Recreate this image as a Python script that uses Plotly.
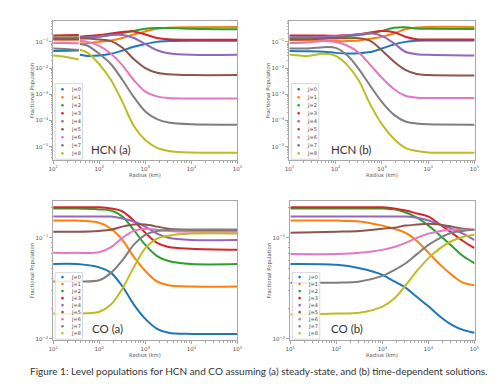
import plotly.graph_objects as go

# ---------------- data ----------------
LEVELS = ["J=0", "J=1", "J=2", "J=3", "J=4", "J=5", "J=6", "J=7", "J=8"]
COLORS = ["#1f77b4", "#ff7f0e", "#2ca02c", "#d62728", "#9467bd",
          "#8c564b", "#e377c2", "#7f7f7f", "#bcbd22"]

X_TICKS = [10, 100, 1000, 10000, 100000]
X_TICK_TEXT = ["10<sup>1</sup>", "10<sup>2</sup>", "10<sup>3</sup>", "10<sup>4</sup>", "10<sup>5</sup>"]
HCN_Y_TICKS = [1e-5, 1e-4, 1e-3, 1e-2, 1e-1]
HCN_Y_TICK_TEXT = ["10<sup>\u22125</sup>", "10<sup>\u22124</sup>", "10<sup>\u22123</sup>",
                   "10<sup>\u22122</sup>", "10<sup>\u22121</sup>"]
CO_Y_TICKS = [1e-2, 1e-1]
CO_Y_TICK_TEXT = ["10<sup>\u22122</sup>", "10<sup>\u22121</sup>"]

PANEL_LABELS = ["HCN (a)", "HCN (b)", "CO (a)", "CO (b)"]
X_TITLE = "Radius (km)"
Y_TITLE = "Fractional Population"
CAPTION = ("Figure 1: Level populations for HCN and CO assuming (a) steady-state, "
           "and (b) time-dependent solutions.")

# HCN (a): steady state, two pieces separated by a jump near 37 km
HCN_A_X_INNER = [10, 18, 36]
HCN_A_X_OUTER = [38, 56, 100, 180, 320, 560, 1000, 1800, 3200, 10000, 100000]
HCN_A_INNER = [
    [0.045, 0.046, 0.047],
    [0.120, 0.120, 0.120],
    [0.148, 0.148, 0.150],
    [0.175, 0.180, 0.185],
    [0.140, 0.140, 0.142],
    [0.126, 0.126, 0.127],
    [0.091, 0.090, 0.088],
    [0.056, 0.053, 0.049],
    [0.030, 0.027, 0.021],
]
HCN_A_OUTER = [
    [0.032, 0.029, 0.030, 0.035, 0.047, 0.065, 0.083, 0.100, 0.107, 0.110, 0.110],
    [0.087, 0.089, 0.100, 0.112, 0.141, 0.191, 0.251, 0.316, 0.347, 0.363, 0.372],
    [0.141, 0.145, 0.158, 0.182, 0.219, 0.263, 0.316, 0.339, 0.339, 0.316, 0.302],
    [0.158, 0.166, 0.182, 0.209, 0.240, 0.251, 0.191, 0.141, 0.126, 0.120, 0.120],
    [0.148, 0.151, 0.162, 0.182, 0.182, 0.141, 0.083, 0.048, 0.037, 0.032, 0.032],
    [0.135, 0.135, 0.123, 0.107, 0.060, 0.022, 0.010, 0.0066, 0.0058, 0.0054, 0.0054],
    [0.107, 0.100, 0.071, 0.035, 0.0126, 0.0035, 0.00126, 0.00083, 0.00072, 0.00069, 0.00069],
    [0.083, 0.071, 0.035, 0.014, 0.0035, 0.00079, 0.00022, 0.000112, 0.000083, 0.000071, 0.000069],
    [0.050, 0.038, 0.014, 0.0035, 0.0005, 0.000063, 0.0000178, 0.0000089, 0.0000068, 0.0000059, 0.0000058],
]

# HCN (b): time dependent
HCN_B_X = [10, 25, 56, 100, 180, 320, 560, 1000, 1800, 3200, 5600, 10000, 100000]
HCN_B = [
    [0.045, 0.044, 0.042, 0.038, 0.036, 0.037, 0.041, 0.056, 0.079, 0.100, 0.110, 0.112, 0.112],
    [0.115, 0.112, 0.110, 0.107, 0.107, 0.112, 0.132, 0.158, 0.209, 0.302, 0.355, 0.372, 0.372],
    [0.141, 0.145, 0.148, 0.151, 0.162, 0.182, 0.209, 0.263, 0.347, 0.363, 0.324, 0.316, 0.309],
    [0.174, 0.174, 0.174, 0.170, 0.178, 0.195, 0.229, 0.263, 0.234, 0.158, 0.126, 0.123, 0.123],
    [0.151, 0.155, 0.158, 0.166, 0.178, 0.195, 0.214, 0.170, 0.089, 0.042, 0.034, 0.032, 0.030],
    [0.123, 0.126, 0.132, 0.135, 0.138, 0.138, 0.110, 0.047, 0.0178, 0.0085, 0.0059, 0.0054, 0.0052],
    [0.091, 0.095, 0.107, 0.098, 0.071, 0.038, 0.0132, 0.0042, 0.00158, 0.00087, 0.00074, 0.00072, 0.00071],
    [0.056, 0.056, 0.063, 0.059, 0.030, 0.0089, 0.0021, 0.0005, 0.000166, 0.000091, 0.000076, 0.000071, 0.000069],
    [0.033, 0.029, 0.035, 0.029, 0.0126, 0.0032, 0.0004, 0.000071, 0.00002, 0.0000089, 0.0000068, 0.000006, 0.0000058],
]

# CO (a): steady state
CO_A_X = [10, 32, 100, 180, 320, 560, 1000, 1800, 3200, 10000, 100000]
CO_A = [
    [0.055, 0.055, 0.051, 0.045, 0.033, 0.022, 0.0158, 0.0126, 0.0115, 0.0112, 0.0112],
    [0.148, 0.148, 0.141, 0.123, 0.095, 0.065, 0.047, 0.037, 0.034, 0.033, 0.033],
    [0.195, 0.195, 0.191, 0.186, 0.162, 0.120, 0.085, 0.066, 0.059, 0.055, 0.055],
    [0.200, 0.200, 0.200, 0.195, 0.182, 0.148, 0.112, 0.089, 0.081, 0.078, 0.076],
    [0.162, 0.162, 0.162, 0.162, 0.155, 0.145, 0.129, 0.110, 0.100, 0.095, 0.095],
    [0.115, 0.115, 0.117, 0.120, 0.129, 0.135, 0.135, 0.129, 0.123, 0.119, 0.117],
    [0.071, 0.071, 0.072, 0.081, 0.100, 0.117, 0.123, 0.120, 0.117, 0.115, 0.115],
    [0.037, 0.037, 0.038, 0.045, 0.060, 0.085, 0.107, 0.117, 0.120, 0.121, 0.121],
    [0.0178, 0.0178, 0.0186, 0.0219, 0.0316, 0.051, 0.079, 0.098, 0.105, 0.110, 0.110],
]

# CO (b): time dependent
CO_B_X = [10, 100, 320, 1000, 1800, 3200, 5600, 10000, 18000, 32000, 56000, 100000]
CO_B = [
    [0.055, 0.054, 0.050, 0.043, 0.037, 0.032, 0.026, 0.021, 0.0166, 0.0138, 0.0123, 0.0115],
    [0.148, 0.148, 0.145, 0.132, 0.123, 0.112, 0.093, 0.071, 0.054, 0.043, 0.036, 0.034],
    [0.195, 0.195, 0.195, 0.195, 0.191, 0.178, 0.158, 0.132, 0.105, 0.083, 0.066, 0.056],
    [0.200, 0.200, 0.200, 0.200, 0.195, 0.186, 0.174, 0.162, 0.135, 0.112, 0.093, 0.079],
    [0.162, 0.162, 0.162, 0.162, 0.162, 0.162, 0.158, 0.148, 0.135, 0.123, 0.110, 0.095],
    [0.112, 0.115, 0.117, 0.123, 0.126, 0.132, 0.135, 0.138, 0.135, 0.129, 0.123, 0.120],
    [0.069, 0.069, 0.071, 0.076, 0.081, 0.089, 0.100, 0.110, 0.117, 0.120, 0.120, 0.120],
    [0.036, 0.036, 0.037, 0.042, 0.048, 0.056, 0.069, 0.085, 0.100, 0.112, 0.117, 0.120],
    [0.0174, 0.0178, 0.0182, 0.0209, 0.0251, 0.034, 0.047, 0.063, 0.079, 0.093, 0.102, 0.107],
]

# ---------------- layout helpers ----------------
W, H = 500, 384


def fx(px):
    return px / W


def fy(py):
    return 1 - py / H


# pixel boxes of the four plot areas: (left, right, top, bottom)
BOXES = [(41, 229, 13, 153), (282, 471, 13, 153), (41, 229, 194, 334), (283, 471, 194, 334)]
HCN_RANGE = [-5.52, -0.20]
CO_RANGE = [-2.013, -0.636]

fig = go.Figure()

LINE_W = 2.0


def add_curve(x, y, color, xa, ya):
    fig.add_trace(go.Scatter(
        x=x, y=y, mode="lines", line=dict(color=color, width=LINE_W, shape="spline", smoothing=0.9),
        xaxis=xa, yaxis=ya, showlegend=False, hoverinfo="skip"))


for j in range(9):
    add_curve(HCN_A_X_INNER, HCN_A_INNER[j], COLORS[j], "x", "y")
    add_curve(HCN_A_X_OUTER, HCN_A_OUTER[j], COLORS[j], "x", "y")
    add_curve(HCN_B_X, HCN_B[j], COLORS[j], "x2", "y2")
    add_curve(CO_A_X, CO_A[j], COLORS[j], "x3", "y3")
    add_curve(CO_B_X, CO_B[j], COLORS[j], "x4", "y4")

AX_COLOR = "#a8a8a8"
TICK_FONT = dict(family="DejaVu Sans", size=5.5, color="#555")

minor_vals = [m * 10 ** k for k in range(-6, 6) for m in range(2, 10)]

layout = dict(width=W, height=H, margin=dict(l=0, r=0, t=0, b=0),
              paper_bgcolor="white", plot_bgcolor="white", showlegend=False)

for i, (l, r, t, b) in enumerate(BOXES):
    sfx = "" if i == 0 else str(i + 1)
    is_hcn = i < 2
    layout["xaxis" + sfx] = dict(
        type="log", range=[1, 5], domain=[fx(l), fx(r)], anchor="y" + sfx,
        showline=True, mirror=True, linecolor=AX_COLOR, linewidth=1,
        ticks="outside", ticklen=3, tickcolor=AX_COLOR, tickwidth=1,
        tickmode="array", tickvals=X_TICKS, ticktext=X_TICK_TEXT, tickfont=TICK_FONT,
        showgrid=False, zeroline=False,
        minor=dict(ticks="outside", ticklen=1.5, tickcolor=AX_COLOR, tickmode="array",
                   tickvals=minor_vals, showgrid=False))
    layout["yaxis" + sfx] = dict(
        type="log", range=HCN_RANGE if is_hcn else CO_RANGE,
        domain=[fy(b), fy(t)], anchor="x" + sfx,
        showline=True, mirror=True, linecolor=AX_COLOR, linewidth=1,
        ticks="outside", ticklen=3, tickcolor=AX_COLOR, tickwidth=1,
        tickmode="array", tickvals=HCN_Y_TICKS if is_hcn else CO_Y_TICKS,
        ticktext=HCN_Y_TICK_TEXT if is_hcn else CO_Y_TICK_TEXT, tickfont=TICK_FONT,
        showgrid=False, zeroline=False,
        minor=dict(ticks="outside", ticklen=1.5, tickcolor=AX_COLOR, tickmode="array",
                   tickvals=minor_vals, showgrid=False))

fig.update_layout(**layout)

annotations = []
shapes = []

# axis titles and panel labels
LABEL_POS = [(78, 142.5), (322, 142.5), (79, 322), (322, 322)]
for i, (l, r, t, b) in enumerate(BOXES):
    annotations.append(dict(text=X_TITLE, x=fx((l + r) / 2), y=fy(b + 15), xref="paper", yref="paper",
                            showarrow=False, font=dict(family="DejaVu Sans", size=5.3, color="#555"),
                            xanchor="center", yanchor="middle"))
    annotations.append(dict(text=Y_TITLE, x=fx(l - 21), y=fy((t + b) / 2), xref="paper", yref="paper",
                            showarrow=False, textangle=-90,
                            font=dict(family="DejaVu Sans", size=5.3, color="#555"),
                            xanchor="center", yanchor="middle"))
    lx, ly = LABEL_POS[i]
    annotations.append(dict(text=PANEL_LABELS[i], x=fx(lx), y=fy(ly), xref="paper", yref="paper",
                            showarrow=False, font=dict(family="Lato", size=11.5, color="#333", weight=400),
                            xanchor="left", yanchor="middle"))

    # manual legend (matplotlib style)
    if i < 2:
        bt, bb, y0, dy = 76, 152, 81.7, 8.05
    else:
        bt, bb, y0, dy = 266, 333, 270.5, 7.05
    bl = l + 2
    br = l + 30
    shapes.append(dict(type="rect", xref="paper", yref="paper", x0=fx(bl), x1=fx(br), y0=fy(bb), y1=fy(bt),
                       line=dict(color="#d8d8d8", width=1), fillcolor="rgba(255,255,255,0.85)", layer="above"))
    for j in range(9):
        yc = y0 + dy * j
        shapes.append(dict(type="circle", xref="paper", yref="paper", xsizemode="pixel", ysizemode="pixel",
                           xanchor=fx(bl + 7.5), yanchor=fy(yc), x0=-1.3, x1=1.3, y0=-1.3, y1=1.3,
                           fillcolor=COLORS[j], line=dict(width=0), layer="above"))
        annotations.append(dict(text=LEVELS[j], x=fx(bl + 14), y=fy(yc), xref="paper", yref="paper",
                                showarrow=False, font=dict(family="DejaVu Sans", size=5, color="#444"),
                                xanchor="left", yanchor="middle"))

annotations.append(dict(text=CAPTION, x=0.5, y=fy(365), xref="paper", yref="paper", showarrow=False,
                        font=dict(family="Lato", size=10, color="#333", weight=400),
                        xanchor="center", yanchor="middle"))

fig.update_layout(annotations=annotations, shapes=shapes)
fig.write_html("out.html")
